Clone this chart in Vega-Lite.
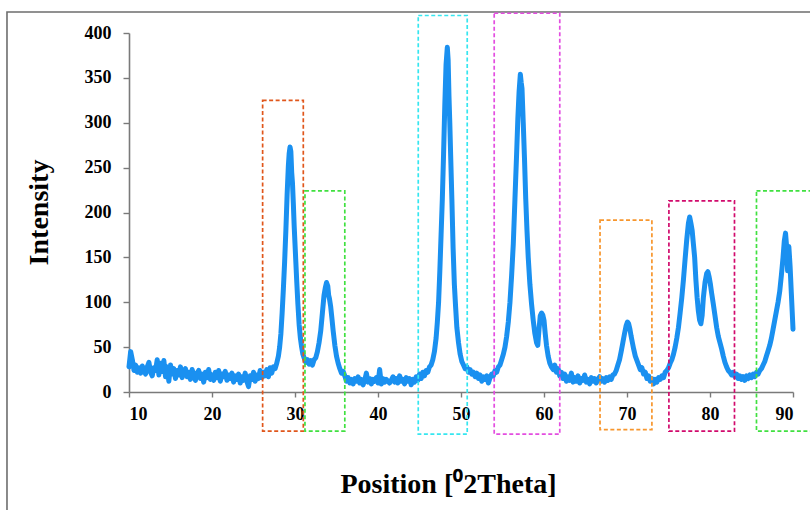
{
  "$schema": "https://vega.github.io/schema/vega-lite/v6.json",
  "width": 664,
  "height": 359,
  "autosize": {"type": "none"},
  "padding": {"left": 129, "top": 33, "right": 17, "bottom": 118},
  "background": "white",
  "config": {
    "view": {"stroke": null},
    "axis": {
      "grid": false,
      "domainColor": "#7a7a7a",
      "domainWidth": 1.6,
      "tickColor": "#7a7a7a",
      "tickWidth": 1.4,
      "labelFont": "Liberation Serif",
      "labelFontWeight": "bold",
      "labelFontSize": 18,
      "labelColor": "#000000",
      "titleFont": "Liberation Serif",
      "titleFontWeight": "bold",
      "titleFontSize": 28,
      "titleColor": "#000000"
    }
  },
  "datasets": {
    "pattern": [
      {"t":10.0,"i":28},{"t":10.2,"i":45},{"t":10.4,"i":36},{"t":10.6,"i":24},{"t":10.8,"i":30},
      {"t":11.0,"i":22},{"t":11.2,"i":27},{"t":11.4,"i":21},{"t":11.6,"i":29},{"t":11.8,"i":25},
      {"t":12.0,"i":20},{"t":12.2,"i":28},{"t":12.4,"i":33},{"t":12.6,"i":22},{"t":12.8,"i":18},
      {"t":13.0,"i":27},{"t":13.2,"i":24},{"t":13.4,"i":36},{"t":13.6,"i":19},{"t":13.8,"i":32},
      {"t":14.0,"i":23},{"t":14.2,"i":35},{"t":14.4,"i":17},{"t":14.6,"i":28},{"t":14.8,"i":12},
      {"t":15.0,"i":30},{"t":15.2,"i":20},{"t":15.4,"i":26},{"t":15.6,"i":15},{"t":15.8,"i":24},
      {"t":16.0,"i":19},{"t":16.2,"i":28},{"t":16.4,"i":16},{"t":16.6,"i":23},{"t":16.8,"i":26},
      {"t":17.0,"i":17},{"t":17.2,"i":22},{"t":17.4,"i":14},{"t":17.6,"i":25},{"t":17.8,"i":19},
      {"t":18.0,"i":13},{"t":18.2,"i":21},{"t":18.4,"i":24},{"t":18.6,"i":15},{"t":18.8,"i":20},
      {"t":19.0,"i":11},{"t":19.2,"i":22},{"t":19.4,"i":16},{"t":19.6,"i":25},{"t":19.8,"i":14},
      {"t":20.0,"i":19},{"t":20.2,"i":13},{"t":20.4,"i":22},{"t":20.6,"i":16},{"t":20.8,"i":24},
      {"t":21.0,"i":12},{"t":21.2,"i":20},{"t":21.4,"i":17},{"t":21.6,"i":23},{"t":21.8,"i":13},
      {"t":22.0,"i":19},{"t":22.2,"i":15},{"t":22.4,"i":21},{"t":22.6,"i":11},{"t":22.8,"i":18},
      {"t":23.0,"i":14},{"t":23.2,"i":20},{"t":23.4,"i":10},{"t":23.6,"i":17},{"t":23.8,"i":13},
      {"t":24.0,"i":21},{"t":24.2,"i":12},{"t":24.4,"i":6},{"t":24.6,"i":18},{"t":24.8,"i":14},
      {"t":25.0,"i":22},{"t":25.2,"i":12},{"t":25.4,"i":19},{"t":25.6,"i":15},{"t":25.8,"i":24},
      {"t":26.0,"i":16},{"t":26.2,"i":22},{"t":26.4,"i":18},{"t":26.6,"i":25},{"t":26.8,"i":17},
      {"t":27.0,"i":27},{"t":27.2,"i":21},{"t":27.4,"i":28},
      {"t":27.6,"i":26},{"t":27.8,"i":32},{"t":28.0,"i":40},{"t":28.15,"i":50},{"t":28.3,"i":65},
      {"t":28.45,"i":88},{"t":28.6,"i":115},{"t":28.75,"i":145},{"t":28.9,"i":180},{"t":29.05,"i":220},
      {"t":29.2,"i":252},{"t":29.3,"i":266},{"t":29.4,"i":273},{"t":29.5,"i":268},{"t":29.6,"i":245},
      {"t":29.7,"i":232},{"t":29.8,"i":210},{"t":29.9,"i":185},{"t":30.0,"i":165},{"t":30.1,"i":145},
      {"t":30.2,"i":125},{"t":30.35,"i":98},{"t":30.5,"i":75},{"t":30.65,"i":60},{"t":30.8,"i":50},
      {"t":30.95,"i":42},{"t":31.1,"i":38},{"t":31.3,"i":33},{"t":31.5,"i":36},{"t":31.7,"i":31},
      {"t":31.9,"i":35},{"t":32.1,"i":30},{"t":32.3,"i":36},
      {"t":32.5,"i":38},{"t":32.7,"i":45},{"t":32.9,"i":55},{"t":33.1,"i":68},{"t":33.3,"i":88},
      {"t":33.5,"i":108},{"t":33.65,"i":116},{"t":33.8,"i":122},{"t":33.95,"i":118},{"t":34.05,"i":108},
      {"t":34.15,"i":104},{"t":34.3,"i":95},{"t":34.45,"i":82},{"t":34.6,"i":68},{"t":34.8,"i":52},
      {"t":35.0,"i":40},{"t":35.2,"i":32},{"t":35.4,"i":26},{"t":35.6,"i":21},{"t":35.8,"i":23},
      {"t":36.0,"i":18},{"t":36.2,"i":12},{"t":36.4,"i":16},{"t":36.6,"i":10},{"t":36.8,"i":14},
      {"t":37.0,"i":9},{"t":37.2,"i":15},{"t":37.4,"i":12},{"t":37.6,"i":17},{"t":37.8,"i":10},
      {"t":38.0,"i":14},{"t":38.2,"i":8},{"t":38.4,"i":13},{"t":38.6,"i":21},{"t":38.8,"i":11},
      {"t":39.0,"i":15},{"t":39.2,"i":9},{"t":39.4,"i":14},{"t":39.6,"i":12},{"t":39.8,"i":16},
      {"t":40.0,"i":10},{"t":40.2,"i":25},{"t":40.4,"i":9},{"t":40.6,"i":15},{"t":40.8,"i":11},
      {"t":41.0,"i":14},{"t":41.2,"i":12},{"t":41.4,"i":10},{"t":41.6,"i":13},{"t":41.8,"i":17},
      {"t":42.0,"i":11},{"t":42.2,"i":15},{"t":42.4,"i":10},{"t":42.6,"i":18},{"t":42.8,"i":12},
      {"t":43.0,"i":14},{"t":43.2,"i":9},{"t":43.4,"i":16},{"t":43.6,"i":12},{"t":43.8,"i":15},
      {"t":44.0,"i":8},{"t":44.2,"i":14},{"t":44.4,"i":11},{"t":44.6,"i":17},{"t":44.8,"i":13},
      {"t":45.0,"i":20},{"t":45.2,"i":15},{"t":45.4,"i":22},{"t":45.6,"i":18},{"t":45.8,"i":24},
      {"t":46.0,"i":22},
      {"t":46.2,"i":28},{"t":46.4,"i":30},{"t":46.6,"i":36},{"t":46.8,"i":45},{"t":47.0,"i":60},
      {"t":47.15,"i":78},{"t":47.3,"i":100},{"t":47.45,"i":135},{"t":47.6,"i":175},{"t":47.75,"i":215},
      {"t":47.9,"i":265},{"t":48.05,"i":320},{"t":48.2,"i":365},{"t":48.35,"i":384},{"t":48.45,"i":370},
      {"t":48.55,"i":330},{"t":48.65,"i":300},{"t":48.75,"i":265},{"t":48.9,"i":215},{"t":49.05,"i":160},
      {"t":49.2,"i":120},{"t":49.35,"i":95},{"t":49.5,"i":72},{"t":49.7,"i":55},{"t":49.9,"i":42},
      {"t":50.1,"i":34},{"t":50.3,"i":30},{"t":50.5,"i":26},{"t":50.7,"i":28},{"t":50.9,"i":22},
      {"t":51.1,"i":25},{"t":51.3,"i":20},{"t":51.5,"i":22},{"t":51.7,"i":17},{"t":51.9,"i":21},
      {"t":52.1,"i":15},{"t":52.3,"i":19},{"t":52.5,"i":12},{"t":52.7,"i":17},{"t":52.9,"i":14},
      {"t":53.1,"i":18},{"t":53.3,"i":10},{"t":53.5,"i":16},
      {"t":53.7,"i":20},{"t":53.9,"i":18},{"t":54.1,"i":24},{"t":54.3,"i":22},{"t":54.5,"i":28},
      {"t":54.7,"i":30},{"t":54.9,"i":36},{"t":55.1,"i":42},{"t":55.3,"i":50},{"t":55.5,"i":62},
      {"t":55.7,"i":78},{"t":55.9,"i":100},{"t":56.1,"i":130},{"t":56.3,"i":165},{"t":56.5,"i":215},
      {"t":56.7,"i":265},{"t":56.85,"i":305},{"t":57.0,"i":335},{"t":57.15,"i":354},{"t":57.25,"i":345},
      {"t":57.35,"i":338},{"t":57.5,"i":300},{"t":57.65,"i":260},{"t":57.8,"i":215},{"t":57.95,"i":180},
      {"t":58.1,"i":150},{"t":58.3,"i":120},{"t":58.5,"i":98},{"t":58.7,"i":80},{"t":58.9,"i":65},
      {"t":59.1,"i":55},{"t":59.25,"i":52},{"t":59.4,"i":70},{"t":59.55,"i":85},{"t":59.7,"i":88},
      {"t":59.85,"i":86},{"t":60.0,"i":80},{"t":60.15,"i":65},{"t":60.3,"i":52},{"t":60.5,"i":40},
      {"t":60.7,"i":32},{"t":60.9,"i":28},{"t":61.1,"i":25},{"t":61.3,"i":30},{"t":61.5,"i":22},
      {"t":61.7,"i":26},{"t":61.9,"i":18},{"t":62.1,"i":22},
      {"t":62.3,"i":15},{"t":62.5,"i":20},{"t":62.7,"i":12},{"t":62.9,"i":17},{"t":63.1,"i":13},
      {"t":63.3,"i":21},{"t":63.5,"i":11},{"t":63.7,"i":16},{"t":63.9,"i":12},{"t":64.1,"i":18},
      {"t":64.3,"i":10},{"t":64.5,"i":15},{"t":64.7,"i":13},{"t":64.9,"i":19},{"t":65.1,"i":11},
      {"t":65.3,"i":14},{"t":65.5,"i":9},{"t":65.7,"i":16},{"t":65.9,"i":12},{"t":66.1,"i":15},
      {"t":66.3,"i":10},{"t":66.5,"i":14},{"t":66.7,"i":17},{"t":66.9,"i":12},{"t":67.1,"i":15},
      {"t":67.3,"i":11},{"t":67.5,"i":16},{"t":67.7,"i":13},{"t":67.9,"i":17},{"t":68.1,"i":14},
      {"t":68.3,"i":19},
      {"t":68.5,"i":20},{"t":68.7,"i":24},{"t":68.9,"i":30},{"t":69.1,"i":36},{"t":69.3,"i":45},
      {"t":69.5,"i":55},{"t":69.7,"i":65},{"t":69.9,"i":74},{"t":70.05,"i":78},{"t":70.2,"i":76},
      {"t":70.35,"i":70},{"t":70.5,"i":62},{"t":70.65,"i":55},{"t":70.8,"i":48},{"t":71.0,"i":40},
      {"t":71.2,"i":35},{"t":71.4,"i":30},{"t":71.6,"i":25},{"t":71.8,"i":27},{"t":72.0,"i":20},
      {"t":72.2,"i":22},{"t":72.4,"i":15},{"t":72.6,"i":18},{"t":72.8,"i":12},{"t":73.0,"i":15},
      {"t":73.2,"i":9},{"t":73.4,"i":14},{"t":73.6,"i":11},{"t":73.8,"i":16},{"t":74.0,"i":14},
      {"t":74.2,"i":18},{"t":74.4,"i":16},{"t":74.6,"i":22},{"t":74.8,"i":24},{"t":75.0,"i":27},
      {"t":75.2,"i":32},{"t":75.4,"i":36},{"t":75.6,"i":42},{"t":75.8,"i":50},{"t":76.0,"i":60},
      {"t":76.2,"i":72},{"t":76.4,"i":88},{"t":76.6,"i":105},{"t":76.8,"i":125},{"t":77.0,"i":148},
      {"t":77.2,"i":170},{"t":77.4,"i":188},{"t":77.55,"i":195},{"t":77.7,"i":188},{"t":77.85,"i":180},
      {"t":78.0,"i":165},{"t":78.15,"i":150},{"t":78.3,"i":125},{"t":78.45,"i":105},{"t":78.6,"i":90},
      {"t":78.75,"i":80},{"t":78.9,"i":76},{"t":79.05,"i":85},{"t":79.2,"i":105},{"t":79.4,"i":122},
      {"t":79.6,"i":132},{"t":79.75,"i":134},{"t":79.9,"i":128},{"t":80.05,"i":120},{"t":80.2,"i":110},
      {"t":80.4,"i":98},{"t":80.6,"i":85},{"t":80.8,"i":72},{"t":81.0,"i":62},{"t":81.2,"i":55},
      {"t":81.4,"i":48},{"t":81.6,"i":40},{"t":81.8,"i":33},{"t":82.0,"i":28},{"t":82.2,"i":24},
      {"t":82.4,"i":22},{"t":82.6,"i":19},{"t":82.8,"i":22},{"t":83.0,"i":17},{"t":83.2,"i":20},
      {"t":83.4,"i":15},{"t":83.6,"i":18},{"t":83.8,"i":14},{"t":84.0,"i":17},{"t":84.2,"i":13},
      {"t":84.4,"i":18},{"t":84.6,"i":15},{"t":84.8,"i":19},{"t":85.0,"i":16},{"t":85.2,"i":20},
      {"t":85.4,"i":17},{"t":85.6,"i":22},
      {"t":85.8,"i":20},{"t":86.0,"i":24},{"t":86.2,"i":26},{"t":86.4,"i":30},{"t":86.6,"i":34},
      {"t":86.8,"i":40},{"t":87.0,"i":46},{"t":87.2,"i":52},{"t":87.4,"i":60},{"t":87.6,"i":70},
      {"t":87.8,"i":80},{"t":88.0,"i":90},{"t":88.2,"i":100},{"t":88.4,"i":112},{"t":88.6,"i":130},
      {"t":88.8,"i":150},{"t":88.95,"i":168},{"t":89.1,"i":177},{"t":89.25,"i":160},{"t":89.35,"i":135},
      {"t":89.5,"i":162},{"t":89.65,"i":140},{"t":89.8,"i":110},{"t":89.9,"i":90},{"t":90.0,"i":70}
    ],
    "regions": [
      {"box":"a","from":26.1,"to":31.0,"top":325,"bottom":-43.5},
      {"box":"b","from":31.2,"to":36.0,"top":224,"bottom":-43.5},
      {"box":"c","from":44.85,"to":50.75,"top":419.5,"bottom":-47},
      {"box":"d","from":54.0,"to":61.9,"top":422,"bottom":-47},
      {"box":"e","from":66.75,"to":73.0,"top":191.5,"bottom":-42},
      {"box":"f","from":75.05,"to":82.95,"top":213,"bottom":-43.5},
      {"box":"g","from":85.6,"to":93.0,"top":224,"bottom":-43.5}
    ],
    "frame": [{"left": -4.7, "right": 110, "top": 423.4, "bottom": -200}]
  },
  "layer": [
    {
      "description": "outer figure frame",
      "data": {"name": "frame"},
      "mark": {"type": "rect", "filled": false, "stroke": "#6e6e6e", "strokeWidth": 1.6, "clip": false},
      "encoding": {
        "x": {"field": "left", "type": "quantitative", "scale": {"domain": [10, 90], "nice": false, "zero": false}},
        "x2": {"field": "right"},
        "y": {"field": "top", "type": "quantitative", "scale": {"domain": [0, 400], "nice": false}},
        "y2": {"field": "bottom"}
      }
    },
    {
      "data": {"name": "pattern"},
      "mark": {"type": "line", "color": "#1a90f0", "strokeWidth": 5, "strokeJoin": "round", "strokeCap": "round"},
      "encoding": {
        "x": {
          "field": "t", "type": "quantitative",
          "scale": {"domain": [10, 90], "nice": false, "zero": false},
          "axis": {
            "title": "Position [⁰2Theta]",
            "values": [10, 20, 30, 40, 50, 60, 70, 80, 90],
            "tickSize": 5,
            "labelPadding": 8,
            "titleX": 319,
            "titleY": 100,
            "titleBaseline": "alphabetic"
          }
        },
        "y": {
          "field": "i", "type": "quantitative",
          "scale": {"domain": [0, 400], "nice": false},
          "axis": {
            "title": "Intensity",
            "values": [0, 50, 100, 150, 200, 250, 300, 350, 400],
            "tickSize": 6,
            "labelPadding": 12,
            "titleX": -82,
            "titleY": 179,
            "titleAngle": -90,
            "titleBaseline": "alphabetic"
          }
        }
      }
    },
    {
      "data": {"name": "regions"},
      "mark": {"type": "rect", "filled": false, "strokeWidth": 1.7, "strokeDash": [4, 2.5], "clip": false},
      "encoding": {
        "x": {"field": "from", "type": "quantitative", "scale": {"domain": [10, 90], "nice": false, "zero": false}},
        "x2": {"field": "to"},
        "y": {"field": "top", "type": "quantitative", "scale": {"domain": [0, 400], "nice": false}},
        "y2": {"field": "bottom"},
        "stroke": {
          "field": "box", "type": "nominal", "legend": null,
          "scale": {
            "domain": ["a", "b", "c", "d", "e", "f", "g"],
            "range": ["#e0561b", "#40e040", "#36e6f0", "#e34ee0", "#f7962d", "#d10a6c", "#40e040"]
          }
        }
      }
    }
  ]
}
